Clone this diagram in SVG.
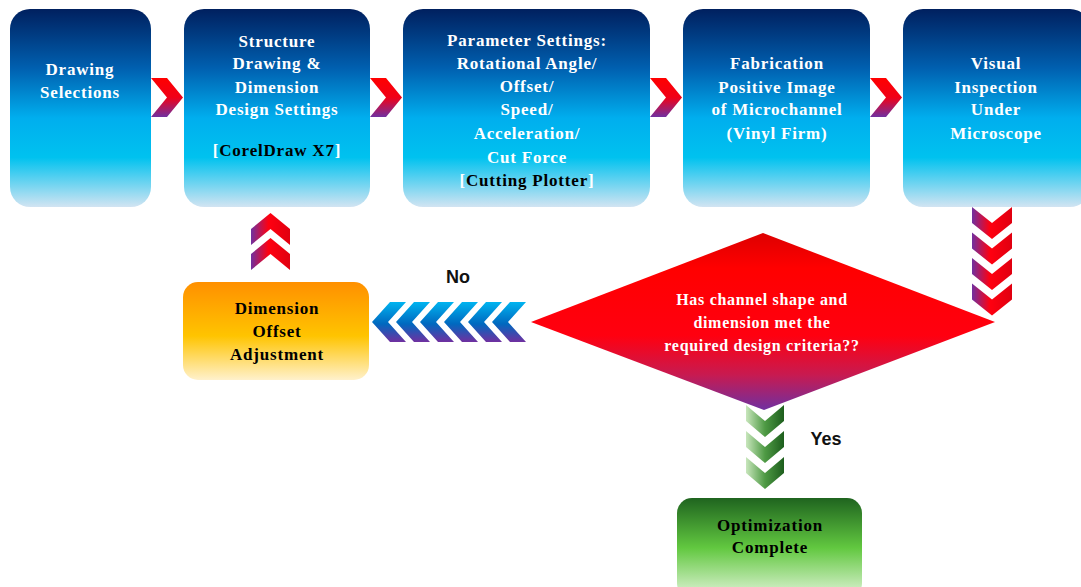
<svg xmlns="http://www.w3.org/2000/svg" xmlns:xlink="http://www.w3.org/1999/xlink" width="1081" height="587" viewBox="0 0 1081 587">
<defs>
<linearGradient id="gBlue" x1="0" y1="0" x2="0" y2="1">
<stop offset="0" stop-color="#00205f"/>
<stop offset="0.3" stop-color="#0060b0"/>
<stop offset="0.55" stop-color="#00aeee"/>
<stop offset="0.75" stop-color="#00c2ef"/>
<stop offset="1" stop-color="#d2e4f2"/>
</linearGradient>
<linearGradient id="gOrange" x1="0" y1="0" x2="0" y2="1">
<stop offset="0" stop-color="#ff9000"/>
<stop offset="0.55" stop-color="#ffc400"/>
<stop offset="1" stop-color="#fff1cc"/>
</linearGradient>
<linearGradient id="gGreen" x1="0" y1="0" x2="0" y2="1">
<stop offset="0" stop-color="#1f641f"/>
<stop offset="0.5" stop-color="#62c840"/>
<stop offset="1" stop-color="#e2f4da"/>
</linearGradient>
<linearGradient id="gDiamond" x1="0" y1="0" x2="0" y2="1">
<stop offset="0" stop-color="#dd0000"/>
<stop offset="0.2" stop-color="#ff0000"/>
<stop offset="0.58" stop-color="#ff0010"/>
<stop offset="0.8" stop-color="#c81a50"/>
<stop offset="1" stop-color="#7030a0"/>
</linearGradient>
<linearGradient id="gRightChev" x1="0" y1="0" x2="0" y2="1">
<stop offset="0" stop-color="#ff0000"/>
<stop offset="0.5" stop-color="#f00018"/>
<stop offset="1" stop-color="#7030a0"/>
</linearGradient>
<linearGradient id="gRedH" x1="0" y1="0" x2="1" y2="0">
<stop offset="0" stop-color="#7030a0"/>
<stop offset="0.45" stop-color="#ff0010"/>
<stop offset="1" stop-color="#e00010"/>
</linearGradient>
<linearGradient id="gBlueChev" x1="0" y1="0" x2="0" y2="1">
<stop offset="0" stop-color="#00b4f0"/>
<stop offset="0.55" stop-color="#0068bf"/>
<stop offset="1" stop-color="#7030a0"/>
</linearGradient>
<linearGradient id="gGreenChev" x1="0" y1="0" x2="1" y2="0">
<stop offset="0" stop-color="#c8e6bc"/>
<stop offset="0.5" stop-color="#4e9a44"/>
<stop offset="1" stop-color="#1d5e1d"/>
</linearGradient>
<path id="chevR" d="M0,0 H16 L32,19.5 L16,39 H0 L16,19.5 Z" fill="url(#gRightChev)"/>
<path id="chevD" d="M0,0 L20,16 L40,0 V16 L20,32 L0,16 Z" fill="url(#gRedH)"/>
<path id="chevU" d="M0,16 L19.5,0 L39,16 V32 L19.5,16 L0,32 Z" fill="url(#gRedH)"/>
<path id="chevL" d="M18,0 H34 L16,20 L34,40 H18 L0,20 Z" fill="url(#gBlueChev)"/>
<path id="chevG" d="M0,0 L19,16 L38,0 V16 L19,32 L0,16 Z" fill="url(#gGreenChev)"/>
</defs>
<style>
.t{font-family:"Liberation Serif",serif;font-weight:bold;font-size:17px;letter-spacing:0.8px;text-anchor:middle;fill:#ffffff}
.d{font-family:"Liberation Serif",serif;font-weight:bold;font-size:16px;letter-spacing:0.7px;text-anchor:middle;fill:#ffffff}
.k{fill:#000000}
.lbl{font-family:"Liberation Sans",sans-serif;font-weight:bold;font-size:18px;text-anchor:middle;fill:#111111}
</style>
<rect width="1081" height="587" fill="#ffffff"/>

<g id="connectors">
<use xlink:href="#chevR" x="151" y="78"/>
<use xlink:href="#chevR" x="370" y="78"/>
<use xlink:href="#chevR" x="650" y="78"/>
<use xlink:href="#chevR" x="870" y="78"/>
<use xlink:href="#chevD" x="972" y="207"/>
<use xlink:href="#chevD" x="972" y="232.5"/>
<use xlink:href="#chevD" x="972" y="258"/>
<use xlink:href="#chevD" x="972" y="283.5"/>
<use xlink:href="#chevL" x="372" y="302"/>
<use xlink:href="#chevL" x="396" y="302"/>
<use xlink:href="#chevL" x="420" y="302"/>
<use xlink:href="#chevL" x="444" y="302"/>
<use xlink:href="#chevL" x="468" y="302"/>
<use xlink:href="#chevL" x="492" y="302"/>
<use xlink:href="#chevU" x="251" y="213"/>
<use xlink:href="#chevU" x="251" y="238"/>
<use xlink:href="#chevG" x="746" y="405"/>
<use xlink:href="#chevG" x="746" y="431"/>
<use xlink:href="#chevG" x="746" y="457"/>
<text class="lbl" x="458" y="283">No</text>
<text class="lbl" x="826" y="445">Yes</text>
</g>

<g id="node-drawing-selections">
<rect x="10" y="9" width="141" height="198" rx="20" fill="url(#gBlue)"/>
<text class="t" x="80" y="75">Drawing</text>
<text class="t" x="80" y="98">Selections</text>
</g>

<g id="node-structure-drawing">
<rect x="184" y="9" width="186" height="198" rx="20" fill="url(#gBlue)"/>
<text class="t" x="277" y="46.5">Structure</text>
<text class="t" x="277" y="69">Drawing &amp;</text>
<text class="t" x="277" y="92.5">Dimension</text>
<text class="t" x="277" y="115">Design Settings</text>
<text class="t" x="277" y="156">[<tspan class="k">CorelDraw X7</tspan>]</text>
</g>

<g id="node-parameter-settings">
<rect x="403" y="9" width="247" height="198" rx="20" fill="url(#gBlue)"/>
<text class="t" x="527" y="46">Parameter Settings:</text>
<text class="t" x="527" y="68.5">Rotational Angle/</text>
<text class="t" x="527" y="92">Offset/</text>
<text class="t" x="527" y="114.5">Speed/</text>
<text class="t" x="527" y="138.5">Acceleration/</text>
<text class="t" x="527" y="162.5">Cut Force</text>
<text class="t" x="527" y="186">[<tspan class="k">Cutting Plotter</tspan>]</text>
</g>

<g id="node-fabrication">
<rect x="683" y="9" width="187" height="198" rx="20" fill="url(#gBlue)"/>
<text class="t" x="777" y="69">Fabrication</text>
<text class="t" x="777" y="92.5">Positive Image</text>
<text class="t" x="777" y="115">of Microchannel</text>
<text class="t" x="777" y="138.5">(Vinyl Firm)</text>
</g>

<g id="node-visual-inspection">
<rect x="903" y="9" width="187" height="198" rx="20" fill="url(#gBlue)"/>
<text class="t" x="996" y="69">Visual</text>
<text class="t" x="996" y="92.5">Inspection</text>
<text class="t" x="996" y="115">Under</text>
<text class="t" x="996" y="138.5">Microscope</text>
</g>

<g id="node-decision">
<polygon points="531,322 763,233 995,322 764,410" fill="url(#gDiamond)"/>
<text class="d" x="762" y="304.5">Has channel shape and</text>
<text class="d" x="762" y="327.5">dimension met the</text>
<text class="d" x="762" y="350.5">required design criteria??</text>
</g>

<g id="node-dimension-offset">
<rect x="183" y="282" width="186" height="98" rx="15" fill="url(#gOrange)"/>
<text class="t k" x="277" y="314">Dimension</text>
<text class="t k" x="277" y="337">Offset</text>
<text class="t k" x="277" y="360">Adjustment</text>
</g>

<g id="node-optimization">
<rect x="677" y="498" width="185" height="100" rx="15" fill="url(#gGreen)"/>
<text class="t k" x="770" y="531">Optimization</text>
<text class="t k" x="770" y="552.5">Complete</text>
</g>
</svg>
